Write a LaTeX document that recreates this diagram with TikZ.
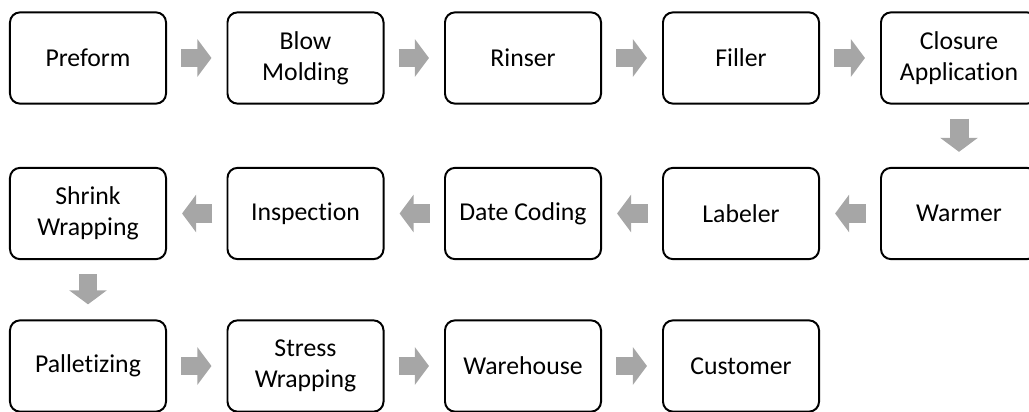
\documentclass[tikz,border=0pt]{standalone}
\usepackage{fontspec}
\setmainfont{Carlito}[Ligatures={NoCommon,NoRare,NoContextual}]
\usetikzlibrary{arrows.meta}

\definecolor{flowgray}{HTML}{A6A6A6}
\tikzset{
	stage/.style={draw, line width=1.4pt, rounded corners=0.25cm, minimum width=3.9cm,
		minimum height=2.28cm, inner sep=0pt, align=center,
		font=\fontsize{18.3}{22}\selectfont},
	flow/.style={draw=flowgray, line width=13.5pt,
		-{Triangle[length=10pt,width=26.3pt]}, shorten <=10pt, shorten >=10.7pt}
}

\begin{document}
\begin{tikzpicture}[x=0.025cm, y=-0.025cm]
	\useasboundingbox (0,0) rectangle (1029,412);
	\clip (0,0) rectangle (1029,412);
	% first row
	\node[stage] (pre) at (88,58) {Preform};
	\node[stage] (blow) at (305.5,58) {Blow\\Molding};
	\node[stage] (rinse) at (523,58) {Rinser};
	\node[stage] (fill) at (741,58) {Filler};
	\node[stage] (close) at (959,58) {Closure\\Application};
	% second row
	\node[stage] (warm) at (959,213.5) {Warmer};
	\node[stage] (label) at (741,213.5) {Labeler};
	\node[stage] (date) at (523,213.5) {Date Coding};
	\node[stage] (insp) at (305.5,213.5) {Inspection};
	\node[stage] (shrink) at (88,213.5) {Shrink\\Wrapping};
	% third row
	\node[stage] (pallet) at (88,366) {Palletizing};
	\node[stage] (stress) at (305.5,366) {Stress\\Wrapping};
	\node[stage] (ware) at (523,366) {Warehouse};
	\node[stage] (cust) at (741,366) {Customer};
	\draw[flow] (pre) -- (blow);
	\draw[flow] (blow) -- (rinse);
	\draw[flow] (rinse) -- (fill);
	\draw[flow] (fill) -- (close);
	\draw[flow] (close) -- (warm);
	\draw[flow] (warm) -- (label);
	\draw[flow] (label) -- (date);
	\draw[flow] (date) -- (insp);
	\draw[flow] (insp) -- (shrink);
	\draw[flow] (shrink) -- (pallet);
	\draw[flow] (pallet) -- (stress);
	\draw[flow] (stress) -- (ware);
	\draw[flow] (ware) -- (cust);
\end{tikzpicture}
\end{document}
